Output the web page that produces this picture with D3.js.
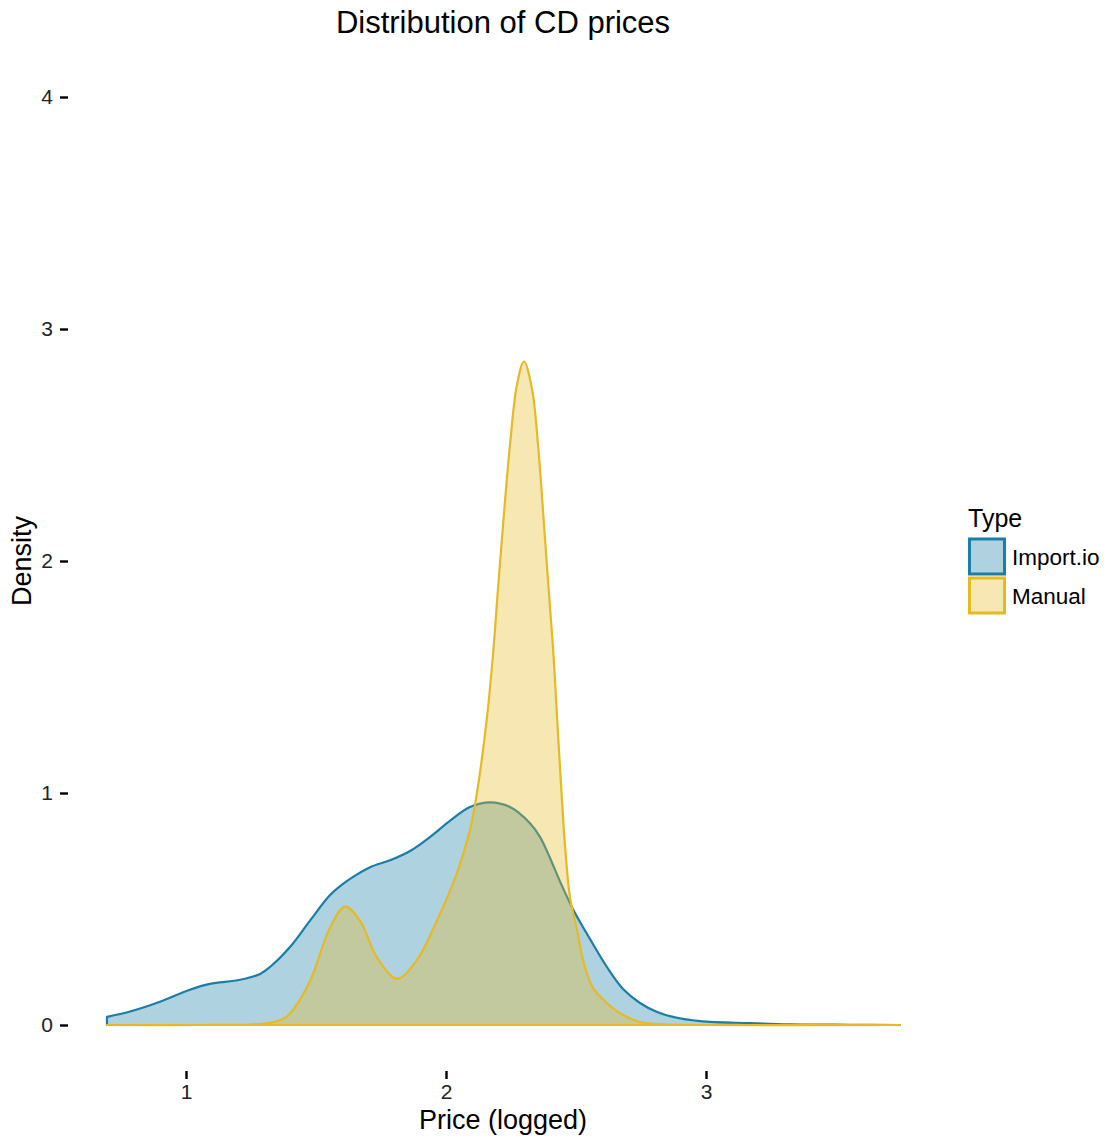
<!DOCTYPE html>
<html>
<head>
<meta charset="utf-8">
<script src="https://cdn.jsdelivr.net/npm/d3@7"></script>
<style>
  body { margin: 0; background: #fff; }
  text { font-family: "Liberation Sans", Arial, sans-serif; fill: #000; }
</style>
</head>
<body>
<div class="chart"></div>
<script>
var w = 1106,
    h = 1142;

// density estimates
var importX = [0.696, 0.785, 0.900, 1.015, 1.092, 1.208, 1.285, 1.323, 1.400, 1.477, 1.554, 1.600, 1.631, 1.708, 1.785,
               1.862, 1.938, 2.015, 2.092, 2.169, 2.246, 2.323, 2.362, 2.400, 2.438, 2.488, 2.554, 2.619, 2.681,
               2.746, 2.812, 2.873, 2.977, 3.169, 3.323, 3.554, 3.746];
var importY = [0.035, 0.058, 0.10, 0.152, 0.177, 0.195, 0.22, 0.25, 0.336, 0.45, 0.56, 0.605, 0.63, 0.68, 0.71,
               0.75, 0.81, 0.88, 0.94, 0.96, 0.94, 0.87, 0.81, 0.72, 0.62, 0.50, 0.37, 0.25, 0.155,
               0.095, 0.056, 0.035, 0.017, 0.008, 0.003, 0.001, 0.0];

var manualX = [0.696, 1.054, 1.246, 1.304, 1.362, 1.400, 1.477, 1.554, 1.612, 1.669, 1.735, 1.812, 1.888, 1.965,
               2.042, 2.092, 2.119, 2.158, 2.181, 2.200, 2.219, 2.246, 2.273, 2.300, 2.331, 2.354, 2.373, 2.392,
               2.412, 2.427, 2.446, 2.458, 2.477, 2.504, 2.527, 2.565, 2.619, 2.681, 2.746, 2.812, 2.977, 3.746];
var manualY = [0, 0, 0.002, 0.006, 0.02, 0.05, 0.19, 0.42, 0.51, 0.45, 0.29, 0.20, 0.28, 0.45,
               0.655, 0.84, 1.0, 1.33, 1.60, 1.88, 2.15, 2.50, 2.76, 2.86, 2.74, 2.50, 2.22, 1.92,
               1.62, 1.33, 0.97, 0.77, 0.55, 0.41, 0.28, 0.16, 0.095, 0.043, 0.013, 0.004, 0, 0];

var types = ["Import.io", "Manual"];
var colors = ["#1a7ea8", "#e4ba26"];
var xTicks = [1, 2, 3];
var yTicks = [0, 1, 2, 3, 4];

var series = [
  { name: types[0], pts: importX.map(function(x, i) { return [x, importY[i]]; }) },
  { name: types[1], pts: manualX.map(function(x, i) { return [x, manualY[i]]; }) }
];

var svg = d3.select("body").select(".chart").append("svg")
  .attr("width", w)
  .attr("height", h);

var x = d3.scaleLinear().domain([1, 3]).range([186, 706]);
var y = d3.scaleLinear().domain([0, 4]).range([1025, 97]);
var color = d3.scaleOrdinal().domain(types).range(colors);

var area = d3.area()
  .x(function(d) { return x(d[0]); })
  .y0(y(0))
  .y1(function(d) { return y(d[1]); })
  .curve(d3.curveCatmullRom.alpha(0.5));

svg.selectAll("path.dens")
  .data(series)
  .enter()
  .append("path")
  .attr("class", "dens")
  .attr("d", function(d) { return area(d.pts); })
  .style("fill", function(d) { return color(d.name); })
  .style("fill-opacity", 0.35)
  .style("stroke", function(d) { return color(d.name); })
  .style("stroke-width", 2.2)
  .style("stroke-linejoin", "round");

// axes
var xAxis = svg.append("g")
  .attr("transform", "translate(0,1071)")
  .call(d3.axisBottom(x).tickValues(xTicks).tickFormat(d3.format("d")).tickSize(8).tickPadding(5));
var yAxis = svg.append("g")
  .attr("transform", "translate(68,0)")
  .call(d3.axisLeft(y).tickValues(yTicks).tickFormat(d3.format("d")).tickSize(8).tickPadding(7));

[xAxis, yAxis].forEach(function(g) {
  g.select(".domain").remove();
  g.selectAll(".tick line").style("stroke", "#000").style("stroke-width", 2.4);
  g.selectAll(".tick text").style("font-size", "21px").style("fill", "#222");
});

// titles
svg.append("text")
  .attr("x", 503).attr("y", 33)
  .attr("text-anchor", "middle")
  .style("font-size", "31px")
  .text("Distribution of CD prices");

svg.append("text")
  .attr("x", 503).attr("y", 1129)
  .attr("text-anchor", "middle")
  .style("font-size", "27px")
  .text("Price (logged)");

svg.append("text")
  .attr("transform", "translate(31,561) rotate(-90)")
  .attr("text-anchor", "middle")
  .style("font-size", "27px")
  .text("Density");

// legend
var legend = svg.append("g").attr("transform", "translate(968,0)");
legend.append("text")
  .attr("x", 0).attr("y", 527)
  .style("font-size", "25px")
  .text("Type");

var keys = legend.selectAll("g.key")
  .data(types)
  .enter()
  .append("g")
  .attr("class", "key")
  .attr("transform", function(d, i) { return "translate(0," + (539 + i * 39) + ")"; });

keys.append("rect")
  .attr("x", 1.5).attr("y", 0)
  .attr("width", 35).attr("height", 35)
  .style("fill", function(d) { return color(d); })
  .style("fill-opacity", 0.35)
  .style("stroke", function(d) { return color(d); })
  .style("stroke-width", 3);

keys.append("text")
  .attr("x", 44).attr("y", 18)
  .attr("dy", "0.35em")
  .style("font-size", "22.5px")
  .text(function(d) { return d; });
</script>
</body>
</html>
